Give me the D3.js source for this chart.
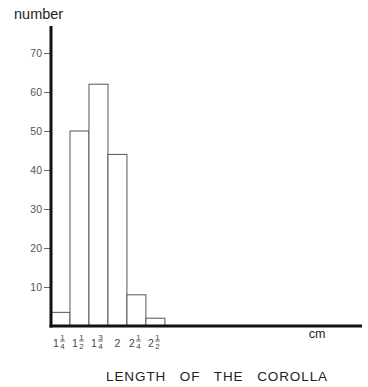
<!DOCTYPE html>
<html>
<head>
<meta charset="utf-8">
<script src="https://cdn.jsdelivr.net/npm/d3@7"></script>
<style>
  body { margin: 0; background: #fff; }
  text { font-family: "Liberation Sans", Arial, sans-serif; }
</style>
</head>
<body>
<div id="chart"></div>
<script>
// bins of corolla length (cm), centre of each bin and count
var bin_centres = [1.25, 1.5, 1.75, 2.0, 2.25, 2.5];
var counts = [3.5, 50, 62, 44, 8, 2];
var bin_width = 0.25;
// tick labels: whole part and fraction [numerator, denominator]
var label_whole = ['1', '1', '1', '2', '2', '2'];
var label_frac = [[1, 4], [1, 2], [3, 4], null, [1, 4], [1, 2]];
var y_ticks = [10, 20, 30, 40, 50, 60, 70];

var width = 368, height = 387;
var x0 = 51, y0 = 326;

var svg = d3.select('#chart').append('svg')
    .attr('width', width).attr('height', height);

var x = d3.scaleLinear().domain([1.125, 5.22]).range([x0, 362]);
var y = d3.scaleLinear().domain([0, 70]).range([y0, 53]);

// bars
svg.append('g').selectAll('rect')
    .data(counts)
    .enter().append('rect')
    .attr('x', function (d, i) { return x(bin_centres[i] - bin_width / 2); })
    .attr('width', function (d, i) { return x(bin_centres[i] + bin_width / 2) - x(bin_centres[i] - bin_width / 2); })
    .attr('y', function (d) { return y(d); })
    .attr('height', function (d) { return y0 - y(d); })
    .attr('fill', '#fff')
    .attr('stroke', '#555')
    .attr('stroke-width', 1);

// y axis with ticks
var yAxis = d3.axisLeft(y).tickValues(y_ticks).tickSize(7).tickPadding(2);
var gy = svg.append('g').attr('transform', 'translate(' + x0 + ',0)').call(yAxis);
gy.select('.domain').remove();
gy.selectAll('.tick line').attr('stroke', '#666');
gy.selectAll('.tick text').attr('font-size', 10.5).attr('fill', '#555')
    .attr('font-family', '"Liberation Sans", Arial, sans-serif');

// axis lines drawn thick
svg.append('line').attr('x1', x0).attr('x2', x0).attr('y1', 26).attr('y2', y0 + 1.5)
    .attr('stroke', '#111').attr('stroke-width', 3);
svg.append('line').attr('x1', x0 - 1.5).attr('x2', x(5.22)).attr('y1', y0).attr('y2', y0)
    .attr('stroke', '#111').attr('stroke-width', 3);

// x tick labels with fractions
var xl = svg.append('g').attr('fill', '#444');
bin_centres.forEach(function (c, i) {
    var cx = x(c);
    var frac = label_frac[i];
    var wx = frac ? cx - 4.5 : cx;
    xl.append('text').attr('x', wx).attr('y', 347)
        .attr('text-anchor', 'middle').attr('font-size', 10.5).text(label_whole[i]);
    if (frac) {
        var fx = cx + 2;
        xl.append('text').attr('x', fx).attr('y', 339.5)
            .attr('text-anchor', 'middle').attr('font-size', 8).text(frac[0]);
        xl.append('line').attr('x1', fx - 2.3).attr('x2', fx + 2.3)
            .attr('y1', 341).attr('y2', 341).attr('stroke', '#444').attr('stroke-width', 0.8);
        xl.append('text').attr('x', fx).attr('y', 349)
            .attr('text-anchor', 'middle').attr('font-size', 8).text(frac[1]);
    }
});

// unit and titles
svg.append('text').attr('x', 317).attr('y', 338)
    .attr('text-anchor', 'middle').attr('font-size', 12.5).attr('fill', '#222').text('cm');
svg.append('text').attr('x', 14).attr('y', 18.5)
    .attr('font-size', 14.5).attr('fill', '#222').text('number');
svg.append('text').attr('x', 217).attr('y', 381)
    .attr('text-anchor', 'middle').attr('font-size', 13.5)
    .attr('letter-spacing', 0.9).attr('word-spacing', 9)
    .attr('fill', '#222').text('LENGTH OF THE COROLLA');
</script>
</body>
</html>
